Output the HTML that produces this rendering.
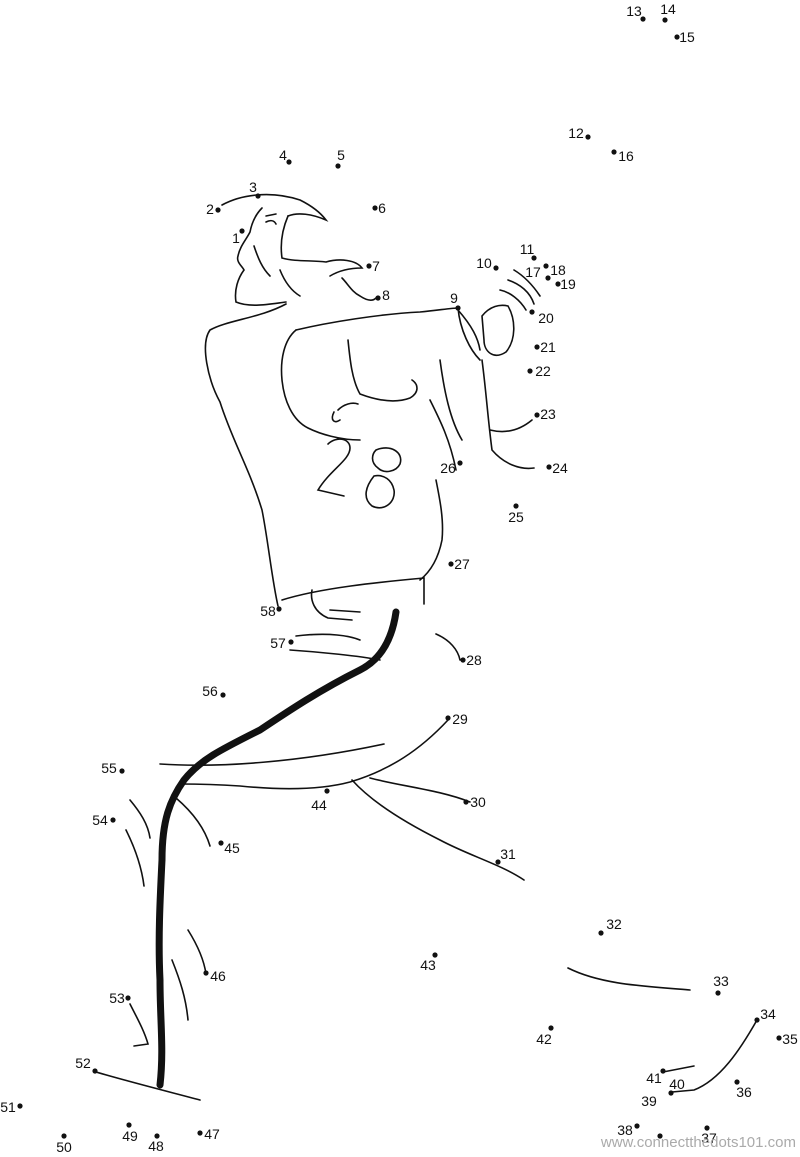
<!DOCTYPE html>
<html><head><meta charset="utf-8"><style>
html,body{margin:0;padding:0;background:#fff}
svg{display:block}
text{font-family:"Liberation Sans",sans-serif;font-size:14px;fill:#111}
</style></head><body>
<svg width="800" height="1157" viewBox="0 0 800 1157" xmlns="http://www.w3.org/2000/svg">
<g fill="none" stroke="#111" stroke-width="1.6" stroke-linecap="round">
<path d="M222 205 C240 195 270 190 300 200 C312 206 320 212 326 220 C312 214 298 212 288 216"/>
<path d="M262 208 C256 214 252 222 250 232 C246 240 240 246 238 256 C236 262 242 266 244 270 C238 278 234 290 236 302 C250 308 270 304 286 302"/>
<path d="M288 216 C282 230 280 244 282 258 C296 262 312 260 326 262 C340 258 356 260 362 268 C350 268 340 270 330 276"/>
<path d="M266 216 L276 214 M266 222 C270 220 274 220 276 224"/>
<path d="M254 246 C258 258 262 268 270 276 M280 270 C284 280 290 290 300 296"/>
<path d="M342 278 C348 284 352 292 360 296 C366 300 372 302 376 298"/>
<path d="M286 304 C260 318 228 320 210 330 C200 344 208 380 220 402 C232 440 250 470 262 510 C268 540 272 580 278 606"/>
<path d="M296 330 C330 322 380 314 420 312 C440 310 452 308 458 308 C460 330 470 350 480 360"/>
<path d="M296 330 C284 340 280 360 282 380 C284 400 292 420 308 428 C320 434 340 440 360 440"/>
<path d="M348 340 C350 360 352 380 360 394 C376 400 394 404 410 398 C420 392 418 384 412 380"/>
<path d="M338 410 C344 404 352 402 358 404 M340 420 C334 424 330 420 334 412"/>
<path d="M328 444 C336 436 350 438 350 448 C350 460 330 470 318 490 L344 496"/>
<path d="M376 450 C390 444 404 452 400 464 C396 472 384 474 378 468 C370 462 372 454 376 450 Z M374 476 C366 486 362 498 372 506 C384 512 396 502 394 490 C392 480 384 474 374 476 Z"/>
<path d="M440 360 C444 390 450 420 462 440 M430 400 C440 420 450 440 456 470"/>
<path d="M436 480 C440 500 444 520 442 540 C438 560 430 572 420 580"/>
<path d="M282 600 C320 588 380 582 424 578 L424 604 M312 590 C310 600 314 612 328 618 L352 620"/>
<path d="M330 610 L360 612"/>
<path d="M482 316 C490 306 500 304 508 306 C516 320 516 340 506 352 C494 360 484 352 484 340 Z"/>
<path d="M500 290 C510 292 520 300 526 310 M508 280 C520 284 530 292 534 304 M514 270 C524 276 532 284 540 296"/>
<path d="M482 360 C486 390 488 420 492 450 C504 464 520 470 534 468"/>
<path d="M490 430 C506 434 520 430 532 420"/>
<path d="M458 310 C472 326 478 338 480 350"/>
<path d="M296 636 C330 632 350 636 360 640 M290 650 C320 652 360 656 380 660"/>
<path d="M436 634 C450 640 458 650 460 660"/>
<path d="M448 720 C420 750 390 770 350 782 C320 790 280 790 240 786 C210 784 190 784 180 784"/>
<path d="M160 764 C220 768 300 762 384 744"/>
<path d="M352 780 C370 800 400 820 440 840 C470 856 500 864 524 880"/>
<path d="M370 778 C400 786 440 790 470 802"/>
<path d="M176 798 C190 810 204 826 210 846"/>
<path d="M130 800 C140 812 148 824 150 838 M126 830 C136 850 142 870 144 886"/>
<path d="M188 930 C198 946 204 960 206 974 M172 960 C180 980 186 998 188 1020"/>
<path d="M130 1004 C136 1016 144 1030 148 1044 L134 1046"/>
<path d="M96 1072 C130 1082 170 1092 200 1100"/>
<path d="M568 968 C600 984 640 986 690 990"/>
<path d="M757 1020 C740 1050 720 1080 694 1090 L672 1092"/>
<path d="M663 1072 L694 1066"/>
</g>
<path d="M396 612 C392 640 380 660 360 670 C320 690 290 710 260 730 C220 750 200 760 184 780 C170 800 162 820 162 860 C160 900 158 940 160 980 C160 1020 164 1050 160 1085" fill="none" stroke="#111" stroke-width="7" stroke-linecap="round"/>
<g fill="#111">
<circle cx="242" cy="231" r="2.6"/><circle cx="218" cy="210" r="2.6"/><circle cx="258" cy="196" r="2.6"/><circle cx="289" cy="162" r="2.6"/><circle cx="338" cy="166" r="2.6"/><circle cx="375" cy="208" r="2.6"/><circle cx="369" cy="266" r="2.6"/><circle cx="378" cy="298" r="2.6"/><circle cx="458" cy="308" r="2.6"/><circle cx="496" cy="268" r="2.6"/><circle cx="534" cy="258" r="2.6"/><circle cx="588" cy="137" r="2.6"/><circle cx="643" cy="19" r="2.6"/><circle cx="665" cy="20" r="2.6"/><circle cx="677" cy="37" r="2.6"/><circle cx="614" cy="152" r="2.6"/><circle cx="546" cy="266" r="2.6"/><circle cx="548" cy="278" r="2.6"/><circle cx="558" cy="284" r="2.6"/><circle cx="532" cy="312" r="2.6"/><circle cx="537" cy="347" r="2.6"/><circle cx="530" cy="371" r="2.6"/><circle cx="537" cy="415" r="2.6"/><circle cx="549" cy="467" r="2.6"/><circle cx="516" cy="506" r="2.6"/><circle cx="460" cy="463" r="2.6"/><circle cx="451" cy="564" r="2.6"/><circle cx="463" cy="660" r="2.6"/><circle cx="448" cy="718" r="2.6"/><circle cx="466" cy="802" r="2.6"/><circle cx="498" cy="862" r="2.6"/><circle cx="601" cy="933" r="2.6"/><circle cx="718" cy="993" r="2.6"/><circle cx="757" cy="1020" r="2.6"/><circle cx="779" cy="1038" r="2.6"/><circle cx="737" cy="1082" r="2.6"/><circle cx="707" cy="1128" r="2.6"/><circle cx="637" cy="1126" r="2.6"/><circle cx="660" cy="1136" r="2.6"/><circle cx="671" cy="1093" r="2.6"/><circle cx="663" cy="1071" r="2.6"/><circle cx="551" cy="1028" r="2.6"/><circle cx="435" cy="955" r="2.6"/><circle cx="327" cy="791" r="2.6"/><circle cx="221" cy="843" r="2.6"/><circle cx="206" cy="973" r="2.6"/><circle cx="200" cy="1133" r="2.6"/><circle cx="157" cy="1136" r="2.6"/><circle cx="129" cy="1125" r="2.6"/><circle cx="64" cy="1136" r="2.6"/><circle cx="20" cy="1106" r="2.6"/><circle cx="95" cy="1071" r="2.6"/><circle cx="128" cy="998" r="2.6"/><circle cx="113" cy="820" r="2.6"/><circle cx="122" cy="771" r="2.6"/><circle cx="223" cy="695" r="2.6"/><circle cx="291" cy="642" r="2.6"/><circle cx="279" cy="609" r="2.6"/>
</g>
<g text-anchor="middle" dominant-baseline="central">
<text x="236" y="238">1</text><text x="210" y="209">2</text><text x="253" y="187">3</text><text x="283" y="155">4</text><text x="341" y="155">5</text><text x="382" y="208">6</text><text x="376" y="266">7</text><text x="386" y="295">8</text><text x="454" y="298">9</text><text x="484" y="263">10</text><text x="527" y="249">11</text><text x="576" y="133">12</text><text x="634" y="11">13</text><text x="668" y="9">14</text><text x="687" y="37">15</text><text x="626" y="156">16</text><text x="533" y="272">17</text><text x="558" y="270">18</text><text x="568" y="284">19</text><text x="546" y="318">20</text><text x="548" y="347">21</text><text x="543" y="371">22</text><text x="548" y="414">23</text><text x="560" y="468">24</text><text x="516" y="517">25</text><text x="448" y="468">26</text><text x="462" y="564">27</text><text x="474" y="660">28</text><text x="460" y="719">29</text><text x="478" y="802">30</text><text x="508" y="854">31</text><text x="614" y="924">32</text><text x="721" y="981">33</text><text x="768" y="1014">34</text><text x="790" y="1039">35</text><text x="744" y="1092">36</text><text x="709" y="1138">37</text><text x="625" y="1130">38</text><text x="649" y="1101">39</text><text x="677" y="1084">40</text><text x="654" y="1078">41</text><text x="544" y="1039">42</text><text x="428" y="965">43</text><text x="319" y="805">44</text><text x="232" y="848">45</text><text x="218" y="976">46</text><text x="212" y="1134">47</text><text x="156" y="1146">48</text><text x="130" y="1136">49</text><text x="64" y="1147">50</text><text x="8" y="1107">51</text><text x="83" y="1063">52</text><text x="117" y="998">53</text><text x="100" y="820">54</text><text x="109" y="768">55</text><text x="210" y="691">56</text><text x="278" y="643">57</text><text x="268" y="611">58</text>
</g>
<text x="796" y="1147" text-anchor="end" style="font-size:15px;fill:#aaa">www.connectthedots101.com</text>
</svg>
</body></html>
